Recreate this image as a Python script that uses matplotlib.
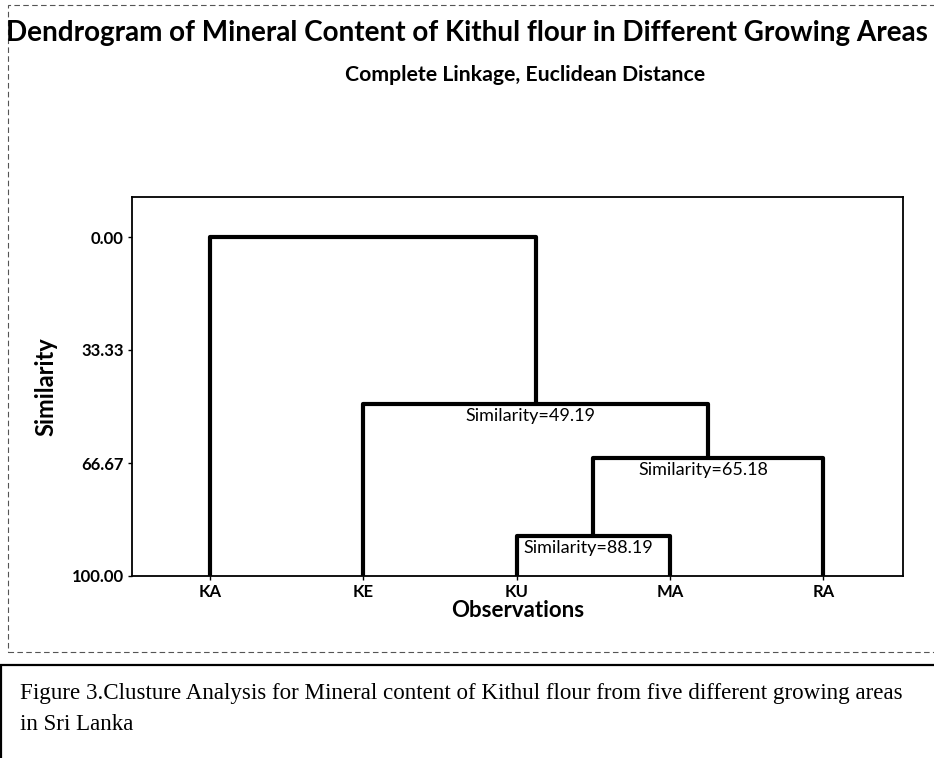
import matplotlib.pyplot as plt
from matplotlib.patches import Rectangle

observations = ['KA', 'KE', 'KU', 'MA', 'RA']
# merge steps of complete linkage: (left cluster, right cluster, similarity)
merge_left = ['KU', 'KU+MA', 'KE', 'KA']
merge_right = ['MA', 'RA', 'KU+MA+RA', 'KE+KU+MA+RA']
similarity = [88.19, 65.18, 49.19, 0.00]
y_ticks = [0.00, 33.33, 66.67, 100.00]

W, H = 934, 758
fig = plt.figure(figsize=(W / 100, H / 100), dpi=100)
fig.patch.set_facecolor('white')

def fx(px):
    return px / W

def fy(py):
    return 1 - py / H

ax = fig.add_axes([fx(132), fy(576), fx(903) - fx(132), fy(197) - fy(576)])

# node positions / heights
pos = {name: i + 1 for i, name in enumerate(observations)}
height = {name: 100.0 for name in observations}
for left, right, s in zip(merge_left, merge_right, similarity):
    xl, xr = pos[left], pos[right]
    ax.plot([xl, xl, xr, xr], [height[left], s, s, height[right]],
            color='black', lw=3, solid_joinstyle='round', solid_capstyle='butt',
            zorder=3, clip_on=False)
    new = left + '+' + right
    pos[new] = (xl + xr) / 2
    height[new] = s
    if s > 0:
        ax.annotate('Similarity=%.2f' % s, (pos[new], s), xytext=(-5, -12),
                    textcoords='offset pixels', ha='center', va='center',
                    fontsize=13, family='Lato', zorder=2)

ax.set_xlim(0.49, 5.52)
ax.set_ylim(100, -11.8)
ax.set_yticks(y_ticks)
ax.set_yticklabels(['%.2f' % v for v in y_ticks])
ax.set_xticks(range(1, len(observations) + 1))
ax.set_xticklabels(observations)
for lab in ax.get_xticklabels() + ax.get_yticklabels():
    lab.set_fontweight('bold')
    lab.set_family('Lato')
    lab.set_fontsize(12)
ax.tick_params(length=3, width=1, color='black', pad=3)
for sp in ax.spines.values():
    sp.set_linewidth(1.3)

ax.set_ylabel('Similarity', fontsize=17, fontweight='bold', family='Lato', labelpad=10)
ax.set_xlabel('Observations', fontsize=16, fontweight='bold', family='Lato', labelpad=0)

fig.text(fx(6), fy(33), 'Dendrogram of Mineral Content of Kithul flour in Different Growing Areas',
         fontsize=20.1, fontweight='bold', family='Lato', ha='left', va='center')
fig.text(fx(525), fy(75), 'Complete Linkage, Euclidean Distance',
         fontsize=15.3, fontweight='bold', family='Lato', ha='center', va='center')

# dashed frame of the chart area
fig.add_artist(Rectangle((fx(8), fy(652)), fx(940) - fx(8), fy(5) - fy(652),
                         transform=fig.transFigure, fill=False, ec='#555555',
                         lw=0.8, ls=(0, (5, 3))))

# caption box
fig.add_artist(Rectangle((fx(1), fy(770)), fx(940), fy(665) - fy(770),
                         transform=fig.transFigure, fill=False, ec='black', lw=1.6))
fig.text(fx(20), fy(693),
         'Figure 3.Clusture Analysis for Mineral content of Kithul flour from five different growing areas',
         fontsize=16.6, family='Liberation Serif', ha='left', va='center')
fig.text(fx(20), fy(725), 'in Sri Lanka',
         fontsize=16.6, family='Liberation Serif', ha='left', va='center')

fig.savefig('out.png', dpi=100)
